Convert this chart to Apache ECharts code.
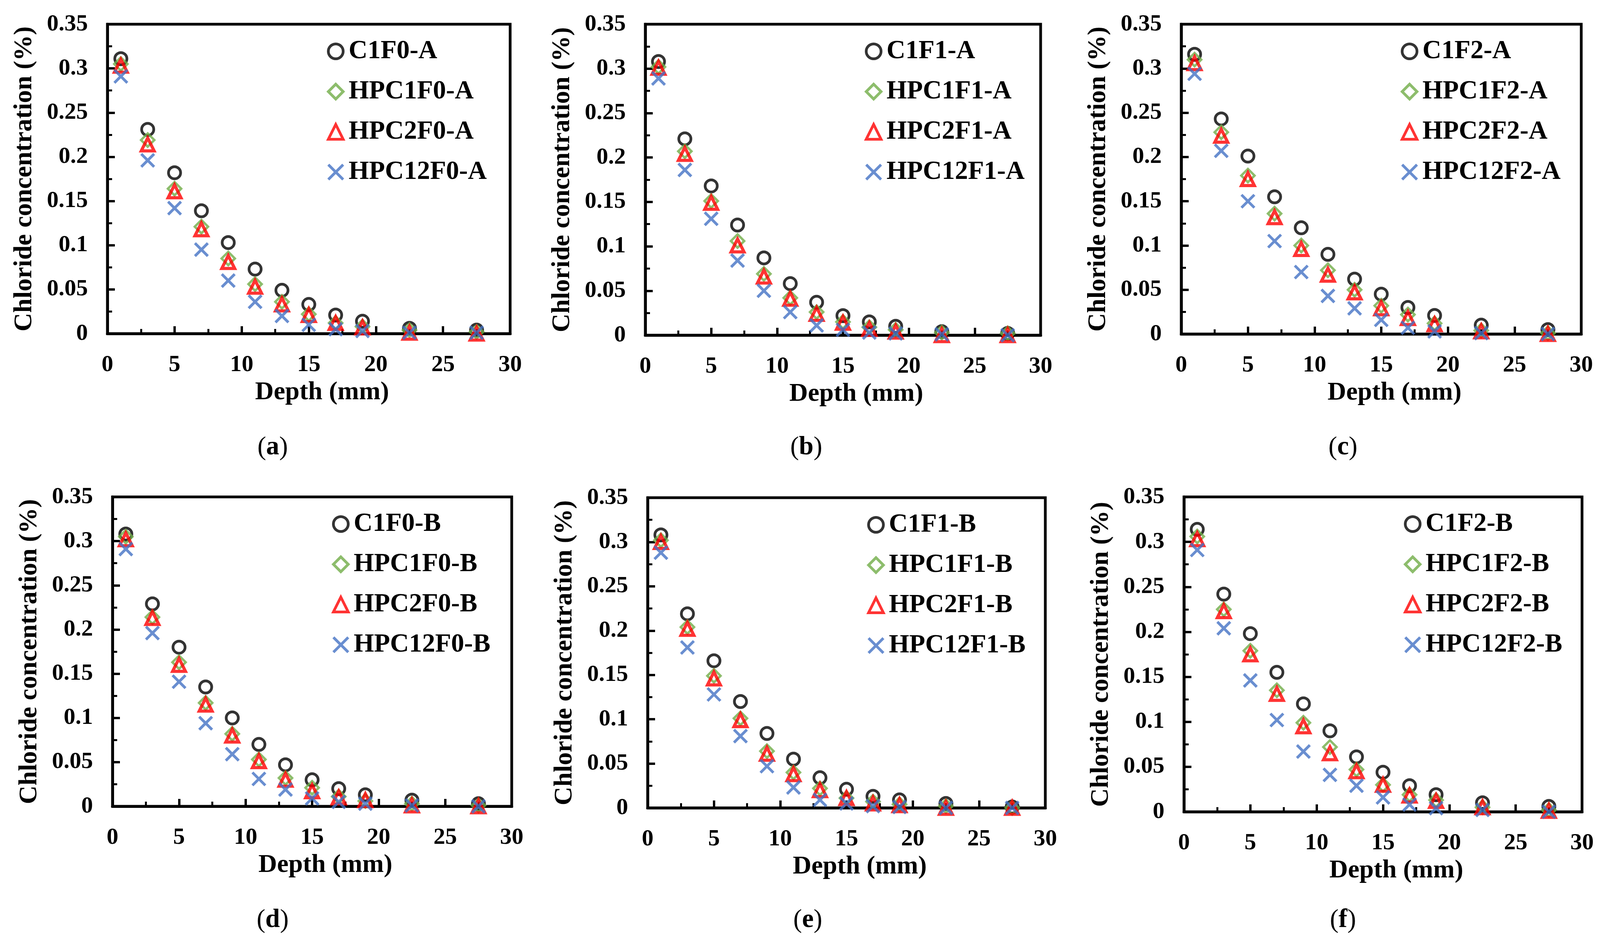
<!DOCTYPE html>
<html>
<head>
<meta charset="utf-8">
<script src="https://cdn.jsdelivr.net/npm/echarts@6/dist/echarts.min.js"></script>
<style>
html,body{margin:0;padding:0;background:#fff;overflow:hidden;}
#chart{width:100vw;height:100vh;}
</style>
</head>
<body>
<div id="chart"></div>
<script>
// ---- data ----
const depth = [1, 3, 5, 7, 9, 11, 13, 15, 17, 19, 22.5, 27.5];
const xTicks = [0, 5, 10, 15, 20, 25, 30];
const yTicks = [0, 0.05, 0.1, 0.15, 0.2, 0.25, 0.3, 0.35];

// panel (a)
const C1F0_A    = [0.311, 0.231, 0.182, 0.139, 0.103, 0.073, 0.049, 0.033, 0.021, 0.014, 0.006, 0.004];
const HPC1F0_A  = [0.305, 0.219, 0.164, 0.121, 0.085, 0.056, 0.036, 0.022, 0.012, 0.008, 0.004, 0.002];
const HPC2F0_A  = [0.303, 0.214, 0.161, 0.118, 0.081, 0.053, 0.033, 0.021, 0.012, 0.007, 0.001, 0.000];
const HPC12F0_A = [0.291, 0.196, 0.142, 0.095, 0.060, 0.036, 0.020, 0.010, 0.005, 0.003, 0.001, 0.001];
// panel (b)
const C1F1_A    = [0.308, 0.221, 0.168, 0.124, 0.087, 0.058, 0.037, 0.022, 0.015, 0.010, 0.004, 0.002];
const HPC1F1_A  = [0.302, 0.207, 0.151, 0.106, 0.069, 0.042, 0.026, 0.015, 0.009, 0.006, 0.003, 0.002];
const HPC2F1_A  = [0.301, 0.204, 0.149, 0.101, 0.066, 0.041, 0.024, 0.014, 0.007, 0.004, 0.000, 0.000];
const HPC12F1_A = [0.289, 0.186, 0.131, 0.084, 0.050, 0.026, 0.011, 0.006, 0.003, 0.002, 0.001, 0.000];
// panel (c)
const C1F2_A    = [0.316, 0.243, 0.201, 0.155, 0.120, 0.090, 0.062, 0.045, 0.030, 0.021, 0.010, 0.005];
const HPC1F2_A  = [0.310, 0.228, 0.179, 0.136, 0.100, 0.072, 0.050, 0.032, 0.022, 0.012, 0.004, 0.001];
const HPC2F2_A  = [0.306, 0.224, 0.175, 0.132, 0.096, 0.067, 0.047, 0.029, 0.018, 0.011, 0.003, 0.000];
const HPC12F2_A = [0.294, 0.207, 0.150, 0.105, 0.070, 0.043, 0.029, 0.016, 0.007, 0.003, 0.001, 0.000];
// panel (d)
const C1F0_B    = [0.308, 0.229, 0.180, 0.135, 0.100, 0.070, 0.047, 0.030, 0.020, 0.013, 0.007, 0.003];
const HPC1F0_B  = [0.305, 0.214, 0.163, 0.117, 0.082, 0.053, 0.032, 0.021, 0.011, 0.006, 0.003, 0.001];
const HPC2F0_B  = [0.302, 0.213, 0.160, 0.115, 0.080, 0.051, 0.030, 0.017, 0.010, 0.007, 0.001, 0.000];
const HPC12F0_B = [0.291, 0.196, 0.141, 0.094, 0.059, 0.031, 0.019, 0.009, 0.005, 0.003, 0.001, 0.000];
// panel (e)
const C1F1_B    = [0.308, 0.219, 0.166, 0.120, 0.084, 0.055, 0.034, 0.021, 0.013, 0.009, 0.005, 0.001];
const HPC1F1_B  = [0.302, 0.204, 0.149, 0.101, 0.064, 0.040, 0.022, 0.011, 0.007, 0.004, 0.002, 0.000];
const HPC2F1_B  = [0.300, 0.202, 0.146, 0.099, 0.061, 0.038, 0.020, 0.011, 0.005, 0.003, 0.000, 0.000];
const HPC12F1_B = [0.288, 0.181, 0.128, 0.081, 0.047, 0.023, 0.009, 0.005, 0.002, 0.001, 0.000, 0.000];
// panel (f)
const C1F2_B    = [0.314, 0.242, 0.198, 0.155, 0.120, 0.090, 0.061, 0.044, 0.029, 0.019, 0.010, 0.006];
const HPC1F2_B  = [0.306, 0.225, 0.179, 0.135, 0.099, 0.072, 0.047, 0.030, 0.019, 0.013, 0.005, 0.002];
const HPC2F2_B  = [0.303, 0.223, 0.175, 0.131, 0.095, 0.065, 0.045, 0.030, 0.018, 0.012, 0.005, 0.001];
const HPC12F2_B = [0.291, 0.204, 0.146, 0.102, 0.067, 0.041, 0.029, 0.016, 0.008, 0.004, 0.002, 0.000];

const panelLetters = ['a', 'b', 'c', 'd', 'e', 'f'];
const panelNames = [
  ['C1F0-A', 'HPC1F0-A', 'HPC2F0-A', 'HPC12F0-A'],
  ['C1F1-A', 'HPC1F1-A', 'HPC2F1-A', 'HPC12F1-A'],
  ['C1F2-A', 'HPC1F2-A', 'HPC2F2-A', 'HPC12F2-A'],
  ['C1F0-B', 'HPC1F0-B', 'HPC2F0-B', 'HPC12F0-B'],
  ['C1F1-B', 'HPC1F1-B', 'HPC2F1-B', 'HPC12F1-B'],
  ['C1F2-B', 'HPC1F2-B', 'HPC2F2-B', 'HPC12F2-B']
];
const panelValues = [
  [C1F0_A, HPC1F0_A, HPC2F0_A, HPC12F0_A],
  [C1F1_A, HPC1F1_A, HPC2F1_A, HPC12F1_A],
  [C1F2_A, HPC1F2_A, HPC2F2_A, HPC12F2_A],
  [C1F0_B, HPC1F0_B, HPC2F0_B, HPC12F0_B],
  [C1F1_B, HPC1F1_B, HPC2F1_B, HPC12F1_B],
  [C1F2_B, HPC1F2_B, HPC2F2_B, HPC12F2_B]
];
const xTitle = 'Depth (mm)';
const yTitle = 'Chloride concentration (%)';

// ---- layout & style (reference coordinates 4244 x 2419, mapped to the actual viewport) ----
const W = window.innerWidth || 4244, H = window.innerHeight || 2419;
const SX = W / 4244, SY = H / 2419, SF = (SX + SY) / 2;
const X = v => Math.round(v * SX), Y = v => Math.round(v * SY), F = v => Math.round(v * SF);

const FONT = '"Liberation Serif", "Times New Roman", serif';
const grids = [
  {l: 285,  t: 62,   r: 1353, b: 854},
  {l: 1712, t: 62,   r: 2760, b: 858},
  {l: 3133, t: 62,   r: 4194, b: 855},
  {l: 298,  t: 1272, r: 1357, b: 2064},
  {l: 1718, t: 1274, r: 2773, b: 2068},
  {l: 3141, t: 1272, r: 4196, b: 2078}
];
const labelPos = [[723, 1146], [2139, 1146], [3562, 1146], [723, 2356], [2143, 2356], [3562, 2356]];
const styles = [
  {symbol: 'circle',  color: '#000000', size: 31, bw: 7},
  {symbol: 'diamond', color: '#70AD47', size: 34, bw: 6},
  {symbol: 'triangle',color: '#FF0000', size: 33, bw: 8},
  {symbol: 'path://M0,0L10,10M10,0L0,10', color: '#4472C4', size: 33, bw: 7}
];

const option = {
  backgroundColor: '#ffffff',
  animation: false,
  grid: [], xAxis: [], yAxis: [], series: [], legend: [], graphic: []
};

const tickCommon = {
  axisLine: {show: true, onZero: false, lineStyle: {color: '#000', width: 7}},
  axisTick: {show: true, inside: true, length: 19, lineStyle: {color: '#000', width: 6}},
  minorTick: {show: true, splitNumber: 2, length: 12, lineStyle: {color: '#000', width: 5}},
  splitLine: {show: false}, minorSplitLine: {show: false}
};

const LEG_ICON = 38;

grids.forEach((g, i) => {
  option.grid.push({
    left: X(g.l), top: Y(g.t), width: X(g.r) - X(g.l), height: Y(g.b) - Y(g.t),
    show: true, borderColor: '#000', borderWidth: 7, backgroundColor: 'rgba(0,0,0,0)'
  });
  option.xAxis.push(Object.assign({
    type: 'value', gridIndex: i, min: xTicks[0], max: xTicks[xTicks.length - 1], interval: xTicks[1] - xTicks[0],
    name: xTitle, nameLocation: 'middle', nameGap: Y(118),
    nameTextStyle: {fontFamily: FONT, fontWeight: 'bold', fontSize: F(67), color: '#000', padding: [0, 0, 0, X(70)]},
    axisLabel: {margin: Y(50), fontFamily: FONT, fontWeight: 'bold', fontSize: F(61), color: '#000'}
  }, JSON.parse(JSON.stringify(tickCommon))));
  option.yAxis.push(Object.assign({
    type: 'value', gridIndex: i, min: yTicks[0], max: yTicks[yTicks.length - 1], interval: yTicks[1] - yTicks[0],
    name: yTitle, nameLocation: 'middle', nameGap: X(185),
    nameTextStyle: {fontFamily: FONT, fontWeight: 'bold', fontSize: F(67), color: '#000'},
    axisLabel: {margin: X(52), fontFamily: FONT, fontWeight: 'bold', fontSize: F(61), color: '#000'}
  }, JSON.parse(JSON.stringify(tickCommon))));
  panelNames[i].forEach((nm, k) => {
    const s = styles[k];
    option.series.push({
      type: 'scatter', name: nm, xAxisIndex: i, yAxisIndex: i,
      data: depth.map((d, j) => [d, panelValues[i][k][j]]),
      symbol: s.symbol, symbolSize: s.size, clip: false,
      itemStyle: {color: 'rgba(0,0,0,0)', borderColor: s.color, borderWidth: s.bw},
      emphasis: {disabled: true}, z: 2 + k
    });
  });
  option.legend.push({
    data: panelNames[i].map((nm, k) => ({name: nm, icon: styles[k].symbol})),
    orient: 'vertical', left: X(g.l + 597) - LEG_ICON / 2, top: Y(g.t + 31),
    itemWidth: LEG_ICON, itemHeight: LEG_ICON, itemGap: Y(103) - F(68), selectedMode: false, symbolKeepAspect: true,
    itemStyle: {borderWidth: 7},
    textStyle: {fontFamily: FONT, fontWeight: 'bold', fontSize: F(68), lineHeight: F(68), color: '#000', padding: [0, 0, 0, X(9)]}
  });
  option.graphic.push({
    type: 'text', x: X(labelPos[i][0]), y: Y(labelPos[i][1]),
    style: {
      text: '{n|(}{b|' + panelLetters[i] + '}{n|)}',
      align: 'center', verticalAlign: 'middle',
      rich: {
        n: {fontFamily: FONT, fontSize: F(68), fill: '#000', fontWeight: 'normal'},
        b: {fontFamily: FONT, fontSize: F(68), fill: '#000', fontWeight: 'bold'}
      }
    }
  });
});

const chart = echarts.init(document.getElementById('chart'), null, {renderer: 'canvas'});
chart.setOption(option);
</script>
</body>
</html>
